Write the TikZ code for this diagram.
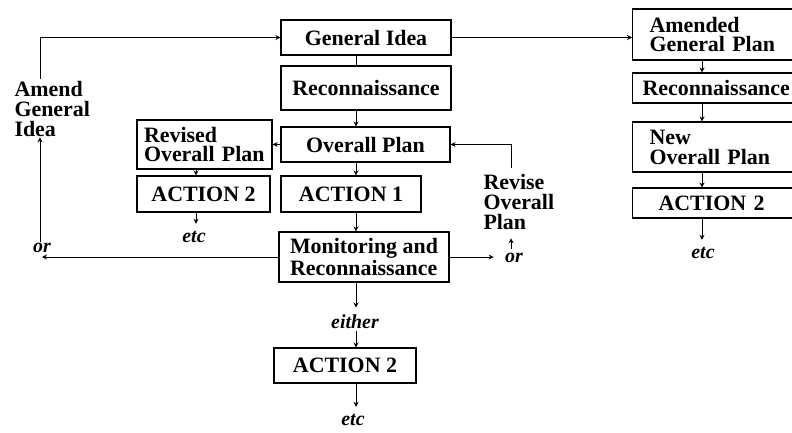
\documentclass[tikz,border=0pt]{standalone}
\usepackage{fontspec}
\setmainfont{Liberation Serif}
\usetikzlibrary{arrows.meta,positioning,calc}

\begin{document}
\begin{tikzpicture}[x=1bp, y=-1bp, line width=1bp,
   font=\bfseries\fontsize{22}{20}\selectfont,
   box/.style={draw, line width=1.1bp, inner sep=0pt, align=center},
   lbox/.style={draw, line width=1.1bp, inner sep=0pt, align=left},
   note/.style={align=left, inner sep=0pt},
   word/.style={font=\bfseries\itshape\fontsize{20}{20}\selectfont, inner sep=1pt},
   arr/.style={-{Stealth[length=5bp,width=5bp]}},
   toword/.style={arr, shorten >=6bp}]
   \useasboundingbox (0,0) rectangle (792,432);
   \coordinate (spine) at (356,0);
   \coordinate (lspine) at (196,0);
   \coordinate (rspine) at (702,0);
   \coordinate (acol) at (40,0);
   \coordinate (rcol) at (511,0);
   % middle column
   \node[box, minimum width=170bp, minimum height=35bp] (gidea) at (366,37.5) {General Idea};
   \node[box, minimum width=170bp, minimum height=44bp] (recon) at (366,88) {Reconnaissance};
   \node[box, minimum width=169bp, minimum height=35bp] (oplan) at (365.5,144.5) {Overall Plan};
   \node[box, minimum width=140bp, minimum height=36bp] (act1) at (351,194) {ACTION 1};
   \node[lbox, minimum width=170bp, minimum height=50bp] (monit) at (364,257) {Monitoring and\\Reconnaissance};
   \node[word] (either) at (355,322) {either};
   \node[box, minimum width=142bp, minimum height=35bp] (actB) at (345,365.5) {ACTION 2};
   \node[word] (etcB) at (353,420) {etc};
   % left branch
   \node[lbox, inner xsep=7bp, text width=121bp, minimum height=49bp] (revised) at (204.5,144.5) {Revised\\Overall Plan};
   \node[box, minimum width=133bp, minimum height=36bp] (actL) at (203.5,194) {ACTION 2};
   \node[word] (etcL) at (194,237) {etc};
   \node[note, anchor=north west] (amend) at (14,81) {Amend\\General\\Idea};
   \node[word] (orL) at (42,248) {or};
   % revise loop
   \node[note, anchor=north west] (revise) at (483,174) {Revise\\Overall\\Plan};
   \node[word] (orR) at (514,258) {or};
   % right column, cut by the page edge
   \node[lbox, anchor=west, inner xsep=17bp, text width=150bp, minimum height=51bp] (amended) at (632,34.5) {Amended\\General Plan};
   \node[lbox, anchor=west, inner xsep=10bp, text width=160bp, minimum height=30bp] (reconR) at (632,88) {Reconnaissance};
   \node[lbox, anchor=west, inner xsep=17bp, text width=150bp, minimum height=50bp] (newplan) at (632,147) {New\\Overall Plan};
   \node[lbox, anchor=west, inner xsep=26bp, text width=140bp, minimum height=30bp] (actR) at (632,203) {ACTION 2};
   \node[word] (etcR) at (703,253) {etc};

   \draw (gidea.south -| spine) -- (recon.north -| spine);
   \draw[arr] (recon.south -| spine) -- (oplan.north -| spine);
   \draw[arr] (oplan.south -| spine) -- (act1.north -| spine);
   \draw[arr] (act1.south -| spine) -- (monit.north -| spine);
   \draw[toword] (monit.south -| spine) -- (either.north -| spine);
   \draw[arr] (either.south -| spine) -- (actB.north -| spine);
   \draw[toword] (actB.south -| spine) -- (etcB.north -| spine);

   \draw[arr] (oplan.west) -- (revised.east);
   \draw[arr] (revised.south -| lspine) -- (actL.north -| lspine);
   \draw[toword] (actL.south -| lspine) -- (etcL.north -| lspine);

   \draw[arr] (monit.west) -- (monit.west -| orL);
   \draw[arr] (orL.north -| acol) -- (amend.south -| acol);
   \draw[arr] ([yshift=2bp]amend.north -| acol) |- (gidea.west);

   \draw[arr] (monit.east) -- ([xshift=-10bp]monit.east -| orR.west);
   \draw[arr] ([yshift=3bp]orR.north -| rcol) -- ([yshift=-8bp]revise.south -| rcol);
   \draw[arr] ([yshift=6bp]revise.north -| rcol) |- (oplan.east);

   \draw[arr] (gidea.east) -- (gidea.east -| amended.west);
   \draw[arr] (amended.south -| rspine) -- (reconR.north -| rspine);
   \draw[arr] (reconR.south -| rspine) -- (newplan.north -| rspine);
   \draw[arr] (newplan.south -| rspine) -- (actR.north -| rspine);
   \draw[toword] (actR.south -| rspine) -- (etcR.north -| rspine);
\end{tikzpicture}
\end{document}
